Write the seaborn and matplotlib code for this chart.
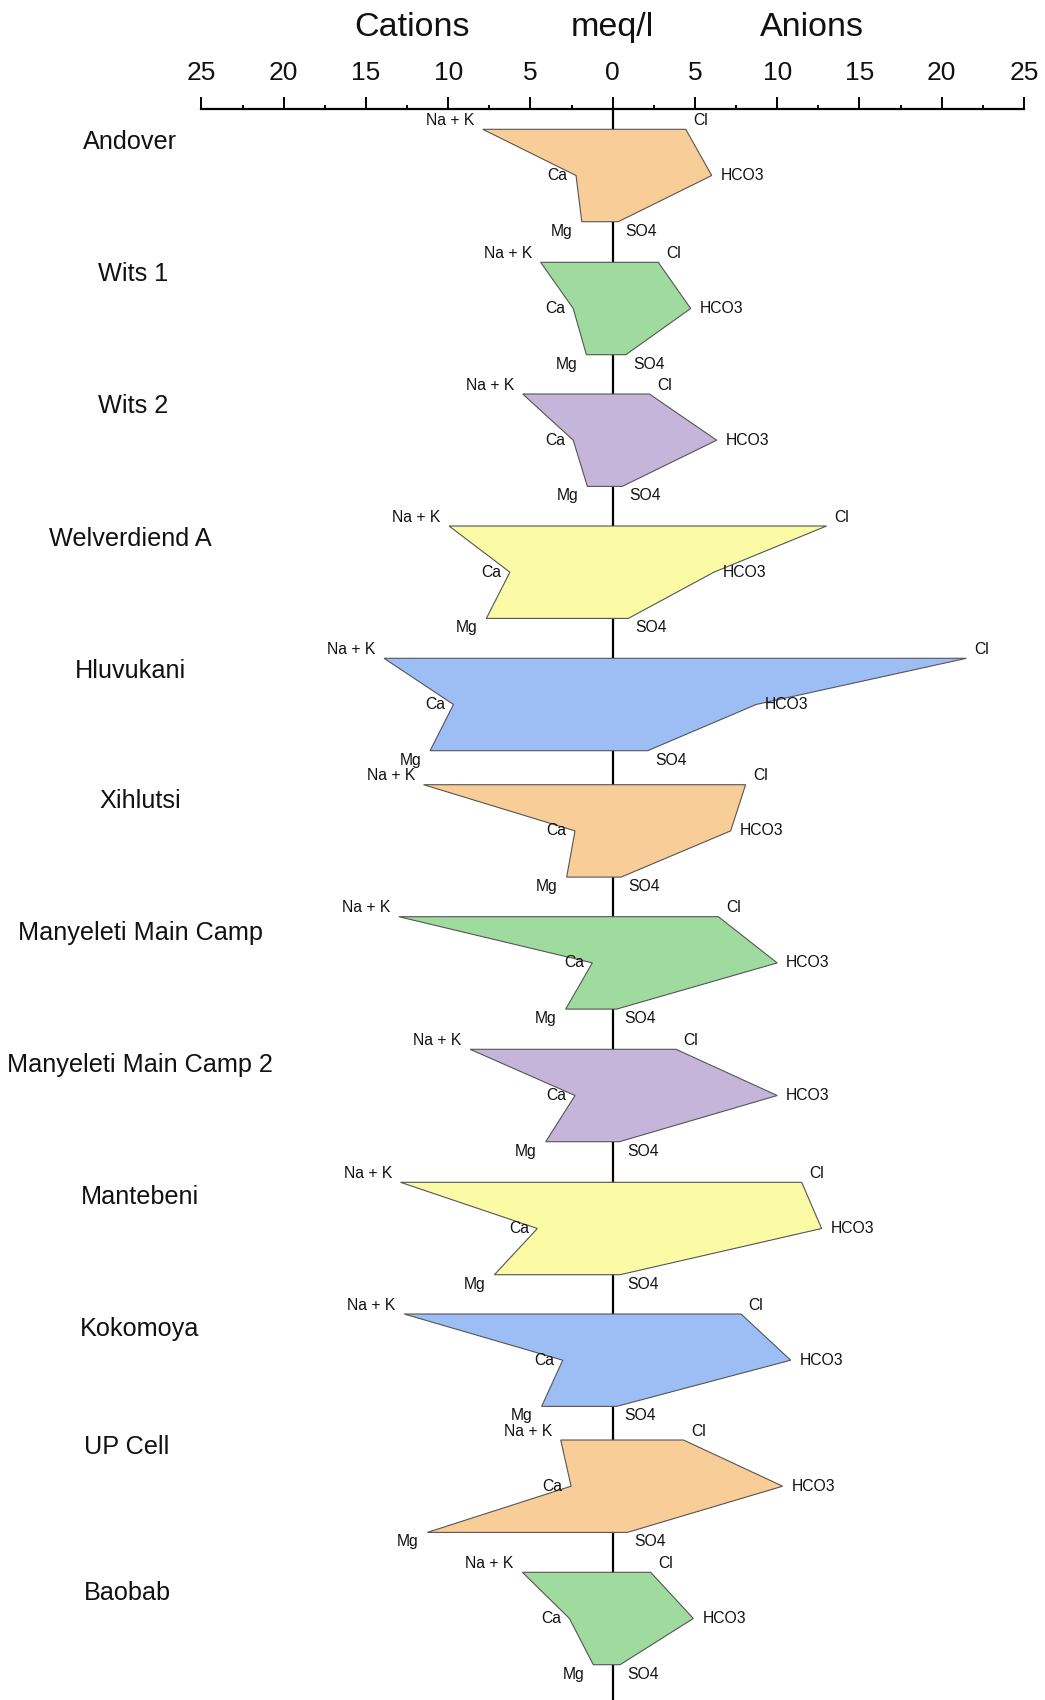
import numpy as np
import pandas as pd
import matplotlib
matplotlib.use("Agg")
import matplotlib.pyplot as plt
from matplotlib.ticker import FixedLocator, FuncFormatter
import seaborn as sns

# ---- data (meq/l) -------------------------------------------------------
sites = ["Andover", "Wits 1", "Wits 2", "Welverdiend A", "Hluvukani", "Xihlutsi",
         "Manyeleti Main Camp", "Manyeleti Main Camp 2", "Mantebeni", "Kokomoya",
         "UP Cell", "Baobab"]
na_k = [7.9, 4.38, 5.47, 9.95, 13.9, 11.5, 13.0, 8.67, 12.9, 12.68, 3.16, 5.49]
ca = [2.23, 2.4, 2.4, 6.25, 9.68, 2.29, 1.24, 2.29, 4.58, 3.04, 2.53, 2.63]
mg = [1.88, 1.6, 1.54, 7.68, 11.1, 2.8, 2.86, 4.07, 7.19, 4.32, 11.27, 1.18]
cl = [4.44, 2.77, 2.23, 13.0, 21.5, 8.08, 6.42, 3.85, 11.49, 7.8, 4.3, 2.31]
hco3 = [6.02, 4.74, 6.32, 6.15, 8.72, 7.17, 10.0, 10.0, 12.7, 10.82, 10.33, 4.9]
so4 = [0.34, 0.8, 0.58, 0.95, 2.13, 0.51, 0.24, 0.41, 0.45, 0.24, 0.89, 0.45]

df = pd.DataFrame({"site": sites, "NaK": na_k, "Ca": ca, "Mg": mg,
                   "Cl": cl, "HCO3": hco3, "SO4": so4})

# ---- layout (figure pixels) ---------------------------------------------
W, H = 1045, 1700
X0_PX, PX_PER_MEQ = 612.7, 16.45
row_tops = [129.3, 262.3, 394.0, 526.0, 658.3, 784.7, 916.7, 1049.3,
            1182.3, 1314.0, 1440.0, 1572.3]
name_y = [142.0, 274.0, 406.0, 539.0, 671.0, 801.0, 933.0, 1065.0,
          1197.0, 1329.0, 1447.0, 1593.0]
name_x = [130, 133, 133, 130, 130, 140, 140, 140, 140, 140, 127, 127]
HALF = 46.2          # vertical distance between ion levels
AXIS_Y = 109.3       # y of the meq/l scale line

palette = sns.color_palette(["#F8CD98", "#9FDB9F", "#C6B5DB", "#FBFAA5", "#9DBDF5"])

sns.set_theme(style="white")
plt.rcParams["font.family"] = ["Liberation Sans", "DejaVu Sans"]

fig = plt.figure(figsize=(W / 100, H / 100), dpi=100)
ax = fig.add_axes([0, 0, 1, 1])
xlim = (-X0_PX / PX_PER_MEQ, (W - X0_PX) / PX_PER_MEQ)
ax.set_xlim(*xlim)
ax.set_ylim(H, 0)
ax.axis("off")


def px_to_meq(px):
    return (px - X0_PX) / PX_PER_MEQ


# central zero line
ax.plot([0, 0], [AXIS_Y, H], color="black", lw=1.6, zorder=1)

lab_kw = dict(fontsize=11.3, color="#111111", textcoords="offset points", zorder=4)
for i, r in df.iterrows():
    t = row_tops[i]
    ys = [t, t + HALF, t + 2 * HALF, t + 2 * HALF, t + HALF, t]
    xs = [-r.NaK, -r.Ca, -r.Mg, r.SO4, r.HCO3, r.Cl]
    ax.fill(xs, ys, facecolor=palette[i % len(palette)], edgecolor="#555555",
            lw=0.8, zorder=2)
    ax.annotate("Na + K", (-r.NaK, t), xytext=(-6.2, 6.3), ha="right", va="center", **lab_kw)
    ax.annotate("Cl", (r.Cl, t), xytext=(5.5, 6.3), ha="left", va="center", **lab_kw)
    ax.annotate("Ca", (-r.Ca, t + HALF), xytext=(-6.0, 0), ha="right", va="center", **lab_kw)
    ax.annotate("HCO3", (r.HCO3, t + HALF), xytext=(6.5, 0), ha="left", va="center", **lab_kw)
    ax.annotate("Mg", (-r.Mg, t + 2 * HALF), xytext=(-6.5, -6.7), ha="right", va="center", **lab_kw)
    ax.annotate("SO4", (r.SO4, t + 2 * HALF), xytext=(5.3, -6.7), ha="left", va="center", **lab_kw)
    ax.text(px_to_meq(name_x[i]), name_y[i], r.site, ha="center", va="center",
            fontsize=18.2, color="#111111")

# headings
for txt, xv in [("Cations", -12.2), ("meq/l", 0.0), ("Anions", 12.1)]:
    ax.text(xv, 36, txt, ha="center", va="baseline", fontsize=24.5, color="#111111")

# meq/l scale along the top
y_frac = 1 - AXIS_Y / H
sax = fig.add_axes([0, y_frac - 0.005, 1, 0.005])
sax.set_xlim(*xlim)
sax.set_ylim(0, 1)
sax.patch.set_alpha(0)
for side in ["left", "right", "bottom"]:
    sax.spines[side].set_visible(False)
sax.spines["top"].set_bounds(-25, 25)
sax.spines["top"].set_linewidth(1.6)
sax.spines["top"].set_color("black")
sax.set_yticks([])
sax.xaxis.set_ticks_position("top")
sax.xaxis.set_major_locator(FixedLocator(np.arange(-25, 26, 5)))
sax.xaxis.set_minor_locator(FixedLocator(np.arange(-22.5, 25, 5)))
sax.xaxis.set_major_formatter(FuncFormatter(lambda v, _: f"{abs(int(round(v)))}"))
sax.tick_params(axis="x", which="major", direction="out", length=9, width=1.4,
                labelsize=19, pad=8.8, colors="black", labelcolor="#111111")
sax.tick_params(axis="x", which="minor", direction="out", length=3, width=1.4, colors="black")

fig.savefig("out.png", dpi=100)
